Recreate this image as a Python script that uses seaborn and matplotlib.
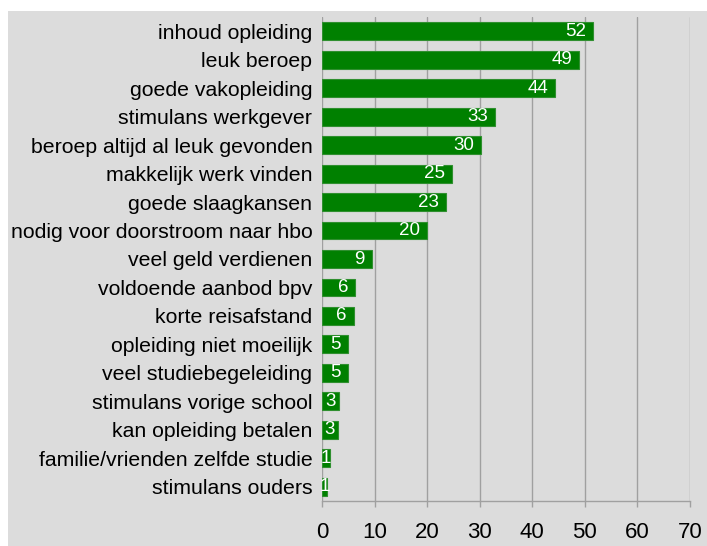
import matplotlib
matplotlib.use("Agg")
import matplotlib.pyplot as plt
import seaborn as sns
import pandas as pd
from matplotlib.patches import Rectangle

categories = [
    "inhoud opleiding", "leuk beroep", "goede vakopleiding", "stimulans werkgever",
    "beroep altijd al leuk gevonden", "makkelijk werk vinden", "goede slaagkansen",
    "nodig voor doorstroom naar hbo", "veel geld verdienen", "voldoende aanbod bpv",
    "korte reisafstand", "opleiding niet moeilijk", "veel studiebegeleiding",
    "stimulans vorige school", "kan opleiding betalen", "familie/vrienden zelfde studie",
    "stimulans ouders",
]
values = [51.5, 48.9, 44.3, 32.9, 30.2, 24.7, 23.6, 20.0, 9.5, 6.3, 6.0, 4.9, 4.9, 3.2, 3.0, 1.5, 1.0]
labels = ["52", "49", "44", "33", "30", "25", "23", "20", "9", "6", "6", "5", "5", "3", "3", "1", "1"]
xticks = [0, 10, 20, 30, 40, 50, 60, 70]

df = pd.DataFrame({"cat": categories, "val": values})

sns.set_theme(style="white")
plt.rcParams["font.family"] = ["Liberation Sans", "DejaVu Sans"]

W, H = 707, 546
fig = plt.figure(figsize=(W / 100, H / 100), dpi=100, facecolor="white")
bg = "#dcdcdc"
fig.patches.append(Rectangle((8 / W, 0), 1, (H - 11) / H, transform=fig.transFigure,
                             facecolor=bg, edgecolor="none", zorder=-10))
ax = fig.add_axes([322 / W, 1 - 501 / H, (690 - 322) / W, (501 - 17) / H])
ax.set_facecolor(bg)

sns.barplot(data=df, x="val", y="cat", orient="h", color="#008000", width=0.63,
            edgecolor="#2f8f2f", linewidth=0.8, saturation=1, ax=ax, zorder=3)

ax.set_xlim(0, 70)
ax.set_ylim(len(categories) - 0.5, -0.5)
ax.set_xticks(xticks)
ax.set_xticklabels([str(t) for t in xticks])
ax.set_xlabel("")
ax.set_ylabel("")
ax.xaxis.grid(True, color="#a0a0a0", linewidth=1, zorder=0)
ax.set_axisbelow(True)
for s in ["top", "right", "left"]:
    ax.spines[s].set_visible(False)
ax.spines["bottom"].set_color("#a0a0a0")
ax.spines["bottom"].set_linewidth(1)
ax.tick_params(axis="x", length=4, width=1, color="#a0a0a0", labelsize=16, pad=11,
               labelcolor="black", bottom=True)
ax.tick_params(axis="y", length=0, labelsize=15.3, pad=7, labelcolor="black")

px_per_unit = (690 - 322) / 70
for i, (v, lab) in enumerate(zip(values, labels)):
    bar_px = v * px_per_unit
    tw = 10 * len(lab)
    if bar_px >= tw + 12:
        ax.annotate(lab, xy=(v, i), xytext=(-5, 0), textcoords="offset points",
                    ha="right", va="center", color="white", fontsize=13.5, zorder=5)
    else:
        ax.annotate(lab, xy=(max(v / 2, 0.6), i), ha="center", va="center",
                    color="white", fontsize=13.5, zorder=5)

fig.savefig("out.png", dpi=100, facecolor="white")
